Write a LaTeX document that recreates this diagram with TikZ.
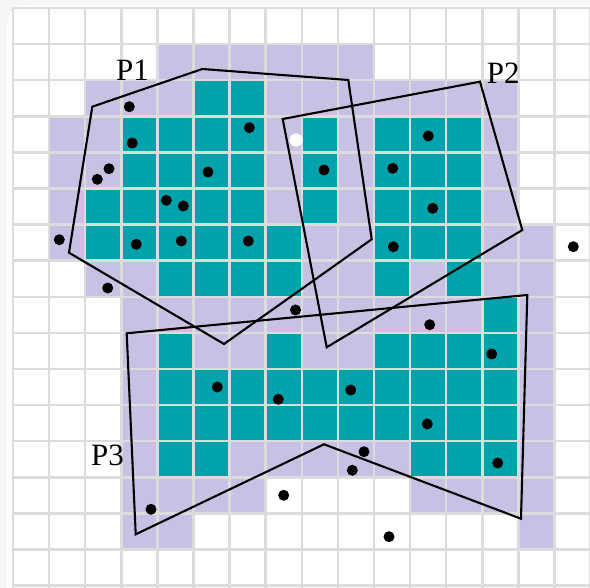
\documentclass[tikz,border=0pt]{standalone}
\usepackage{fontspec}
\setmainfont{Liberation Serif}
\definecolor{CellTeal}{RGB}{0,162,172}
\definecolor{CellLilac}{RGB}{201,193,227}
\definecolor{GridGray}{RGB}{220,220,220}
\definecolor{PanelGray}{RGB}{246,246,246}
\usepackage{tikz}
\usetikzlibrary{positioning}

\tikzset{
  gridline/.style={draw=GridGray, line width=1.25pt},
  region/.style={draw=black, line width=1.05pt, line join=miter},
  sample/.style={circle, fill=black, inner sep=0pt, minimum size=5.5pt},
  plabel/.style={anchor=base, inner sep=0pt, font=\fontsize{15.5}{17}\selectfont},
}

\begin{document}
\begin{tikzpicture}[x=0.5pt, y=-0.5pt]
  \def\cs{36.1}
  \useasboundingbox (0,0) rectangle (590,588);
  \clip (0,0) rectangle (590,588);

  % panel
  \fill[PanelGray] (0,0) rectangle (590,588);
  \fill[white, rounded corners=10pt] (7,5) rectangle (620,620);

  % occupied cells
  \foreach \r/\a/\b in {1/4/9, 2/2/13, 3/1/13, 4/1/13, 5/1/13, 6/1/14, 7/2/14,
                        8/3/14, 9/3/14, 10/3/14, 11/3/14, 12/3/14,
                        13/3/6, 13/11/14, 14/3/4, 14/14/14}
    \fill[CellLilac] ({13+\cs*\a},{8+\cs*\r}) rectangle ({13+\cs*(\b+1)},{8+\cs*(\r+1)});

  % covered cells
  \foreach \r/\a/\b in {2/5/6, 3/3/6, 3/8/8, 3/10/12, 4/3/6, 4/8/8, 4/10/12,
                        5/2/6, 5/8/8, 5/10/12, 6/2/7, 6/10/12, 7/4/7, 7/10/10,
                        7/12/12, 8/13/13, 9/4/4, 9/7/7, 9/10/13, 10/4/13,
                        11/4/13, 12/4/5, 12/11/13}
    \fill[CellTeal] ({13+\cs*\a},{8+\cs*\r}) rectangle ({13+\cs*(\b+1)},{8+\cs*(\r+1)});

  % grid
  \foreach \i in {0,...,16} {
    \draw[gridline] ({13+\cs*\i},8) -- ({13+\cs*\i},600);
    \draw[gridline] (13,{8+\cs*\i}) -- (600,{8+\cs*\i});
  }

  % regions
  \draw[region] (92.3,106.7) -- (202.3,69) -- (348.3,80) -- (371.7,239.3)
                -- (224,344) -- (69,252.7) -- cycle;
  \draw[region] (282.7,119) -- (480,81.7) -- (522.3,230) -- (326.7,347.3) -- cycle;
  \draw[region] (126.7,333.3) -- (527.3,295) -- (521,518.7) -- (324,444.3)
                -- (135.7,534.3) -- cycle;

  \node[plabel] (p1) at (132.5,80.7) {P1};
  \node[plabel] (p2) at (503.3,83.3) {P2};
  \node[plabel] (p3) at (107.5,465.7) {P3};

  % samples
  \foreach \x/\y [count=\k] in {129.3/106.7, 249.3/127.7, 132.3/143, 109/168.7,
      97.3/179.3, 208/172, 166.3/200.3, 183.3/206, 59.3/239.7, 136.3/244.3,
      181.3/241, 248.3/241, 107.7/288, 324/170, 428.3/136, 392.7/168.3,
      432.7/208.3, 393.3/246.7, 573.3/246.7, 295.5/310, 217.3/387, 278.3/399.3,
      283.7/495.3, 151/509.3, 429.7/324.7, 491.7/354, 350.7/390, 427.3/424,
      364/451.7, 352.3/470.3, 497.7/463, 389/536.7}
    \node[sample] (s\k) at (\x,\y) {};
  \node[sample, fill=white, minimum size=6.6pt] (w1) at (296,140) {};
\end{tikzpicture}
\end{document}
